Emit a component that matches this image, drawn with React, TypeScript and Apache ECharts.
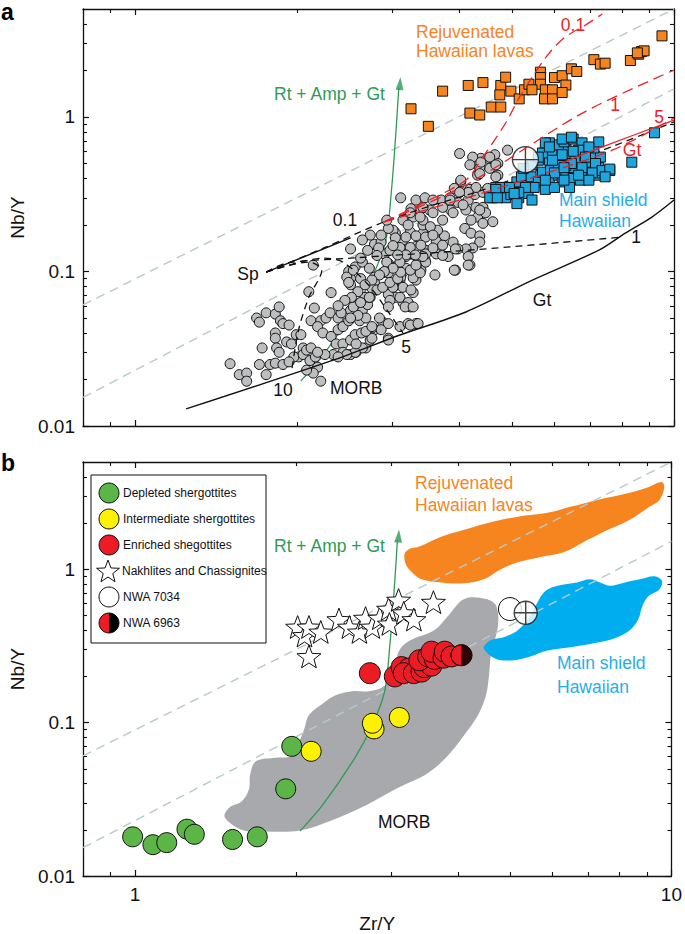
import React, { useEffect, useRef } from 'react';
import * as echarts from 'echarts';

const FONT = '"Liberation Sans", Arial, Helvetica, sans-serif';

const X_RANGE = [0.8, 10];
const Y_RANGE = [0.01, 5];
const X_MAJOR = [1, 10];
const X_MINOR = [0.8, 0.9, 2, 3, 4, 5, 6, 7, 8, 9];
const Y_MAJOR = [0.01, 0.1, 1];
const Y_MINOR = [0.02, 0.03, 0.04, 0.05, 0.06, 0.07, 0.08, 0.09, 0.2, 0.3, 0.4, 0.5, 0.6, 0.7, 0.8, 0.9, 2, 3, 4];

// constant Nb/Zr reference lines
const REF_UPPER = [[0.8, 0.0607], [10, 5.0]];
const REF_LOWER = [[0.8, 0.0153], [10, 1.52]];

// Rt + Amp + Gt trend
const RT_AMP_GT = [[2.03, 0.0196], [2.24, 0.0292], [2.57, 0.0589], [2.77, 0.0964], [2.92, 0.16], [2.99, 0.337], [3.04, 0.71], [3.085, 1.55]];
const RT_AMP_GT_TIP = [[3.1, 1.8]];

// panel a: MORB compilation
const MORB_A = [
  [1.5, 0.0253], [1.56, 0.0215], [1.61, 0.022], [1.61, 0.0195], [1.7, 0.025], [1.72, 0.032], [1.75, 0.0215], [1.78, 0.025], [1.82, 0.0255], [1.88, 0.025],
  [1.68, 0.05], [1.7, 0.047], [1.75, 0.054], [1.82, 0.053], [1.85, 0.059], [1.86, 0.048], [1.88, 0.046], [1.93, 0.045], [1.82, 0.04], [1.82, 0.037],
  [1.83, 0.032], [1.85, 0.03], [1.91, 0.035], [1.95, 0.034], [1.99, 0.039], [2.03, 0.039], [2.05, 0.032], [2.01, 0.028], [1.97, 0.028], [1.93, 0.026],
  [2.05, 0.029], [2.08, 0.031], [2.12, 0.032], [2.11, 0.0265], [2.16, 0.028], [2.18, 0.024], [2.21, 0.0195], [2.14, 0.022], [2.08, 0.023],
  [2.1, 0.074], [2.31, 0.073], [2.15, 0.058], [2.12, 0.048], [2.21, 0.048], [2.26, 0.05], [2.3, 0.054], [2.38, 0.05], [2.18, 0.044], [2.23, 0.04],
  [2.31, 0.038], [2.38, 0.042], [2.43, 0.044], [2.49, 0.048], [2.56, 0.052], [2.61, 0.048], [2.64, 0.056], [2.7, 0.061], [2.73, 0.068], [2.75, 0.079],
  [2.78, 0.092], [2.67, 0.068], [2.56, 0.061], [2.51, 0.056], [2.36, 0.034], [2.43, 0.034], [2.51, 0.036], [2.56, 0.039], [2.63, 0.04], [2.33, 0.029],
  [2.25, 0.029], [2.18, 0.03], [2.43, 0.03], [2.51, 0.029], [2.57, 0.03], [2.68, 0.032], [2.73, 0.036], [2.78, 0.042], [2.88, 0.047], [2.95, 0.037],
  [3.1, 0.044], [3.21, 0.046], [3.32, 0.046], [2.75, 0.043], [2.86, 0.042],
  [2.14, 0.11], [2.51, 0.14], [2.49, 0.1], [2.51, 0.09], [2.51, 0.082], [2.56, 0.107], [2.64, 0.115], [2.72, 0.105], [2.78, 0.15], [2.86, 0.155],
  [2.9, 0.13], [2.95, 0.113], [2.88, 0.098], [2.78, 0.085], [3.01, 0.079], [3.1, 0.088], [3.14, 0.099], [3.04, 0.068], [3.14, 0.063], [3.24, 0.059],
  [3.28, 0.073], [3.32, 0.088], [3.39, 0.102], [3.45, 0.12], [3.46, 0.137], [3.32, 0.145], [3.24, 0.13], [3.14, 0.16], [3.04, 0.178], [3.01, 0.185],
  [3.24, 0.18], [3.42, 0.177], [3.42, 0.2], [3.14, 0.215], [2.83, 0.142], [2.62, 0.09], [2.75, 0.078], [2.95, 0.071],
  [4.0, 0.58], [4.91, 0.61], [4.27, 0.5], [4.38, 0.54], [4.51, 0.54], [4.65, 0.57], [4.71, 0.5], [4.55, 0.465], [4.36, 0.47], [4.32, 0.42],
  [4.71, 0.42], [4.02, 0.38], [3.91, 0.345], [4.02, 0.33], [4.18, 0.34], [4.15, 0.29], [4.27, 0.315], [4.42, 0.325], [4.55, 0.34], [4.75, 0.33],
  [3.11, 0.3], [3.52, 0.25], [3.7, 0.29], [3.84, 0.3], [3.97, 0.28], [3.85, 0.25], [4.11, 0.25], [4.29, 0.26], [4.42, 0.26], [4.32, 0.225],
  [4.42, 0.205], [4.61, 0.21], [4.2, 0.215], [4.09, 0.19], [4.2, 0.177], [4.36, 0.17], [4.36, 0.155], [4.23, 0.142], [4.11, 0.14], [3.97, 0.14],
  [4.15, 0.125], [4.18, 0.11], [3.93, 0.102], [3.6, 0.095], [3.81, 0.125], [3.89, 0.155], [3.75, 0.17], [3.64, 0.185], [3.72, 0.215], [3.53, 0.195],
  [3.42, 0.215], [3.28, 0.225], [3.38, 0.25], [3.25, 0.255], [3.32, 0.29], [3.45, 0.3], [3.57, 0.29],
  [2.95, 0.19], [3.04, 0.165], [3.18, 0.167], [3.32, 0.17], [3.46, 0.167], [3.62, 0.157], [3.39, 0.148], [3.24, 0.143], [3.1, 0.143], [2.97, 0.137],
  [3.18, 0.125], [3.32, 0.125], [3.46, 0.13], [3.62, 0.13], [3.46, 0.115], [3.32, 0.107], [3.18, 0.105], [3.04, 0.107], [2.93, 0.115], [2.95, 0.098],
  [3.11, 0.092], [3.28, 0.091], [3.38, 0.098], [3.14, 0.079], [3.01, 0.079], [3.25, 0.076], [3.1, 0.068], [3.21, 0.063], [2.97, 0.065], [2.95, 0.059],
  [3.91, 0.102], [4.15, 0.11], [3.93, 0.14], [3.72, 0.127], [3.57, 0.142], [3.17, 0.059], [3.28, 0.059], [3.24, 0.045], [3.35, 0.046], [2.95, 0.046],
  [2.95, 0.036], [2.75, 0.037], [2.64, 0.032], [2.56, 0.03], [2.47, 0.029], [2.38, 0.028], [2.57, 0.034], [2.68, 0.041], [2.75, 0.044], [2.84, 0.05],
  [2.68, 0.05], [2.59, 0.052], [2.51, 0.05], [2.41, 0.054], [2.54, 0.059], [2.62, 0.063], [2.72, 0.068], [2.81, 0.076], [2.88, 0.079], [2.97, 0.085],
  [3.07, 0.09], [3.11, 0.099], [3.24, 0.102], [3.32, 0.11], [3.42, 0.125], [3.31, 0.128], [3.18, 0.128], [3.1, 0.115], [3.01, 0.105], [2.9, 0.1],
  [2.84, 0.095], [2.75, 0.088], [2.67, 0.082], [2.59, 0.074], [2.52, 0.068], [2.45, 0.065], [2.38, 0.06], [2.47, 0.092], [2.54, 0.102], [2.49, 0.085],
  [4.23, 0.55], [4.38, 0.51], [4.55, 0.55], [4.67, 0.49], [4.36, 0.43], [4.18, 0.49], [4.02, 0.39], [4.29, 0.35], [4.15, 0.325], [4.0, 0.325],
  [3.84, 0.29], [3.72, 0.26], [3.57, 0.24], [3.42, 0.26], [3.38, 0.225], [3.24, 0.24], [4.67, 0.41], [4.51, 0.345], [4.47, 0.24], [4.36, 0.25],
  [4.06, 0.27], [3.89, 0.24], [2.86, 0.172], [2.81, 0.127], [2.7, 0.137], [2.62, 0.122], [3.01, 0.147], [3.07, 0.128], [2.93, 0.215], [3.21, 0.2],
  [3.57, 0.172], [3.72, 0.148], [2.73, 0.172], [2.64, 0.16],
];

// panel a: rejuvenated Hawaiian lavas
const REJUV_A = [
  [3.25, 1.13], [3.5, 0.87], [3.72, 1.47], [4.15, 1.6], [4.42, 1.67], [4.18, 1.06], [4.36, 1.03], [4.58, 1.16], [4.77, 1.16], [4.77, 1.6],
  [4.87, 1.81], [4.75, 1.39], [4.98, 1.47], [5.16, 1.31], [5.28, 1.5], [5.65, 1.95], [5.65, 1.8], [5.65, 1.63], [5.77, 1.5], [5.95, 1.5],
  [5.75, 1.31], [5.95, 1.31], [6.0, 1.8], [6.2, 1.85], [6.3, 1.61], [6.45, 2.05], [6.6, 1.97], [6.2, 1.44], [5.38, 1.63], [5.45, 1.5],
  [7.1, 2.35], [7.3, 2.2], [7.45, 2.23], [8.3, 2.32], [8.6, 2.55], [8.7, 2.65], [8.8, 2.68], [8.55, 2.6], [9.5, 3.35],
];

// panel a: main shield Hawaiian lavas
const SHIELD_A = [
  [4.61, 0.3], [4.67, 0.35], [4.87, 0.3], [4.91, 0.35], [5.05, 0.34], [5.15, 0.3], [5.11, 0.38], [5.21, 0.41], [5.36, 0.36], [5.43, 0.41],
  [5.6, 0.38], [5.7, 0.44], [5.87, 0.39], [5.9, 0.45], [6.1, 0.42], [6.2, 0.38], [6.3, 0.42], [6.5, 0.4], [6.7, 0.39], [6.95, 0.41],
  [7.15, 0.42], [7.35, 0.435], [7.6, 0.45], [7.25, 0.47], [6.95, 0.47], [6.75, 0.45], [6.5, 0.47], [6.3, 0.485], [6.1, 0.485], [5.87, 0.525],
  [5.6, 0.525], [5.45, 0.49], [5.25, 0.465], [5.7, 0.585], [5.95, 0.585], [6.2, 0.585], [6.45, 0.57], [6.75, 0.57], [7.0, 0.57], [7.3, 0.55],
  [7.15, 0.5], [6.85, 0.51], [6.55, 0.525], [6.3, 0.63], [6.1, 0.66], [5.87, 0.68], [5.77, 0.68], [6.25, 0.69], [6.5, 0.72], [6.8, 0.61],
  [7.1, 0.63], [7.25, 0.69], [6.75, 0.68], [5.45, 0.35], [5.77, 0.34], [6.0, 0.35], [6.4, 0.35], [4.98, 0.315], [4.77, 0.35], [5.11, 0.275],
  [5.36, 0.32], [6.2, 0.72], [6.45, 0.74], [6.65, 0.61], [6.95, 0.64], [6.85, 0.55], [7.35, 0.45], [7.6, 0.46], [7.45, 0.41], [7.05, 0.435],
  [6.75, 0.47], [6.45, 0.5], [6.25, 0.39], [6.0, 0.435], [5.77, 0.39], [5.5, 0.35], [5.3, 0.35], [5.15, 0.325], [5.45, 0.29], [4.95, 0.35],
  [4.67, 0.34], [4.55, 0.3], [4.7, 0.3], [5.05, 0.32], [8.35, 0.51], [9.2, 0.79], [5.87, 0.64], [6.2, 0.57], [5.6, 0.55], [5.95, 0.525],
  [6.25, 0.47], [6.65, 0.42], [6.95, 0.39], [6.5, 0.6],
];

const NWA7034_A = [[5.3, 0.53]];

// panel a: melting models (black = spinel/garnet peridotite, red = Hawaiian source)
const GT_MELT = [[1.243, 0.0129], [2.33, 0.0267], [3.1, 0.0388], [4.11, 0.0547], [5.46, 0.088], [7.27, 0.138], [8.12, 0.177], [9.1, 0.225], [10, 0.29]];
const SP_MELT = [[1.75, 0.099], [2.51, 0.165]];
const MIX_01 = [[1.75, 0.099], [2.24, 0.142], [2.89, 0.209], [3.57, 0.269], [4.42, 0.337], [5.46, 0.44], [7.36, 0.61], [10, 0.93]];
const MIX_1 = [[1.75, 0.099], [1.91, 0.1135], [2.51, 0.122], [4.23, 0.138], [8.02, 0.167]];
const MIX_5 = [[1.75, 0.099], [2.24, 0.122], [2.43, 0.115], [2.71, 0.0818], [2.95, 0.0547], [3.14, 0.04]];
const MIX_10 = [[1.75, 0.099], [2.1, 0.115], [2.22, 0.102], [2.1, 0.068], [2.01, 0.0418], [1.95, 0.0224]];
const RED_01 = [[2.89, 0.209], [3.42, 0.277], [4.11, 0.391], [4.42, 0.551], [4.87, 0.914], [5.17, 1.35], [5.46, 1.82], [5.87, 2.6], [6.29, 3.3], [6.85, 3.94], [7.36, 4.64]];
const RED_1 = [[2.89, 0.209], [4.11, 0.363], [6.76, 1.06], [10, 2.01]];
const RED_5 = [[2.89, 0.209], [4.61, 0.337], [7.68, 0.61], [10, 0.985]];
const RED_GT = [[6.2, 0.504], [7.36, 0.64], [10, 0.955]];

// panel b: fields
const MORB_FIELD = [
  [1.47, 0.0242], [1.59, 0.0199], [1.75, 0.0195], [2.03, 0.0198], [2.33, 0.0231], [2.69, 0.0288], [3.1, 0.0377], [3.52, 0.047], [3.84, 0.0616],
  [4.11, 0.083], [4.36, 0.112], [4.51, 0.15], [4.57, 0.202], [4.61, 0.28], [4.75, 0.43], [4.71, 0.58], [4.51, 0.64], [4.11, 0.64], [3.84, 0.5],
  [3.61, 0.4], [3.24, 0.34], [3.1, 0.29], [3.05, 0.215], [2.92, 0.174], [2.73, 0.16], [2.54, 0.16], [2.36, 0.15], [2.24, 0.133], [2.11, 0.112],
  [2.07, 0.092], [2.03, 0.077], [1.97, 0.061], [1.83, 0.059], [1.68, 0.056], [1.64, 0.046], [1.63, 0.0365], [1.58, 0.0306], [1.5, 0.028],
];
const REJUV_FIELD = [
  [3.18, 1.25], [3.24, 1.35], [3.38, 1.4], [3.72, 1.63], [4.11, 1.81], [4.55, 2.0], [5.17, 2.2], [5.87, 2.33], [6.48, 2.55], [7.27, 2.83],
  [8.36, 3.15], [9.1, 3.45], [9.58, 3.7], [9.7, 3.45], [9.5, 2.83], [9.1, 2.55], [8.36, 2.1], [7.45, 1.74], [6.85, 1.5], [6.29, 1.29],
  [5.63, 1.19], [5.17, 1.11], [4.81, 1.0], [4.47, 0.86], [4.11, 0.81], [3.72, 0.82], [3.42, 0.86], [3.28, 0.96], [3.2, 1.07],
];
const SHIELD_FIELD = [
  [4.47, 0.305], [4.61, 0.345], [4.87, 0.36], [5.17, 0.4], [5.46, 0.5], [5.63, 0.61], [5.82, 0.72], [6.13, 0.78], [6.67, 0.82], [7.05, 0.86],
  [7.36, 0.82], [7.68, 0.78], [8.19, 0.82], [8.73, 0.86], [9.3, 0.9], [9.6, 0.84], [9.5, 0.74], [9.03, 0.66], [8.82, 0.57], [8.67, 0.47],
  [8.36, 0.4], [7.85, 0.355], [7.21, 0.33], [6.48, 0.31], [5.87, 0.295], [5.46, 0.27], [5.08, 0.255], [4.71, 0.26],
];

// panel b: Martian meteorites
const DEPLETED = [[0.99, 0.018], [1.08, 0.016], [1.146, 0.0165], [1.25, 0.0202], [1.29, 0.0187], [1.52, 0.0173], [1.69, 0.018], [1.91, 0.037], [1.96, 0.07]];
const INTERMEDIATE = [[2.13, 0.065], [2.79, 0.091], [2.77, 0.099], [3.11, 0.108]];
const ENRICHED = [[2.74, 0.21], [3.05, 0.2], [3.14, 0.23], [3.24, 0.225], [3.17, 0.21], [3.31, 0.21], [3.42, 0.215], [3.46, 0.23], [3.57, 0.235],
  [3.39, 0.255], [3.52, 0.27], [3.62, 0.26], [3.57, 0.29], [3.76, 0.265], [3.78, 0.29], [3.89, 0.27]];
const NAKHLITES = [[2.01, 0.42], [2.07, 0.37], [2.11, 0.42], [2.22, 0.39], [2.11, 0.27], [2.4, 0.47], [2.51, 0.42], [2.62, 0.39], [2.69, 0.48],
  [2.77, 0.42], [2.86, 0.48], [2.97, 0.55], [3.1, 0.63], [2.98, 0.44], [3.17, 0.52], [3.31, 0.47], [3.6, 0.61]];
const NWA7034_B = [[5.0, 0.55]];
const NWA7034_B_AVG = [[5.35, 0.52]];
const NWA6963 = [[4.06, 0.275]];

const STAR = 'path://M0,-1L0.247,-0.34L0.951,-0.309L0.399,0.13L0.588,0.809L0,0.42L-0.588,0.809L-0.399,0.13L-0.951,-0.309L-0.247,-0.34Z';
const CROSS_CIRCLE = 'path://M-1,0A1,1 0 1,1 1,0A1,1 0 1,1 -1,0ZM-1,0L1,0M0,-1L0,1';
const HALF_RIGHT = 'path://M0,0A10,10 0 0,1 0,20Z';

const C = {
  grey: '#bdbec0', greyField: '#a7a9ac', orange: '#f6851f', blue: '#1ea5de', blueField: '#00aeef',
  green: '#2f9a55', ref: '#b7cac8', red: '#ec2227', dGreen: '#5cb647', yellow: '#fff200', eRed: '#ed1c24',
};

const fmt = (v: number) => (v < 0.05 ? '0.01' : v < 0.5 ? '0.1' : v < 5 ? '1' : '10');

function axesFor(dim: 'x' | 'y', gridIndex: number, showLabels: boolean, name: string) {
  const isX = dim === 'x';
  const base = {
    gridIndex, type: 'log', logBase: 10,
    min: isX ? X_RANGE[0] : Y_RANGE[0], max: isX ? X_RANGE[1] : Y_RANGE[1],
    splitLine: { show: false }, minorTick: { show: false }, minorSplitLine: { show: false },
  };
  const pos = isX ? ['bottom', 'top'] : ['left', 'right'];
  const out: any[] = [];
  pos.forEach((p, i) => {
    out.push({
      ...base, position: p,
      axisLine: { show: true, onZero: false, lineStyle: { color: '#111', width: 1.3 } },
      axisTick: { show: true, inside: true, length: 6, customValues: isX ? X_MAJOR : Y_MAJOR, lineStyle: { color: '#111', width: 1.2 } },
      axisLabel: { show: showLabels && i === 0, customValues: isX ? X_MAJOR : Y_MAJOR, formatter: fmt, fontSize: 19, color: '#111', fontFamily: FONT, margin: isX ? 9 : 8 },
      name: i === 0 ? name : '', nameLocation: 'middle', nameGap: isX ? 38 : 56, nameRotate: isX ? 0 : 90,
      nameTextStyle: { fontSize: 19, color: '#111', fontFamily: FONT },
    });
    out.push({
      ...base, position: p,
      axisLine: { show: false },
      axisTick: { show: true, inside: true, length: 4, customValues: isX ? X_MINOR : Y_MINOR, lineStyle: { color: '#111', width: 1.1 } },
      axisLabel: { show: false },
    });
  });
  return out;
}

const line = (ai: number, data: number[][], color: string, type: any, width = 1.3, smooth: any = false, z = 2) => ({
  type: 'line', xAxisIndex: ai, yAxisIndex: ai, data, symbol: 'none', smooth, silent: true, z,
  lineStyle: { color, width, type },
});

const scatter = (ai: number, data: number[][], symbol: string, size: any, color: string, z = 3, extra: any = {}) => ({
  type: 'scatter', xAxisIndex: ai, yAxisIndex: ai, data, symbol, symbolSize: size, silent: true, z,
  itemStyle: { color, borderColor: '#111', borderWidth: 1, opacity: 1 }, ...extra,
});

const poly = (ai: number, pts: number[][], color: string) => ({
  type: 'custom', xAxisIndex: ai, yAxisIndex: ai, data: [pts[0]], silent: true, z: 1,
  renderItem: (_p: any, api: any) => ({
    type: 'polygon',
    shape: { points: pts.map((p) => api.coord(p)), smooth: 0.35 },
    style: { fill: color, stroke: 'none' },
  }),
});

const arrow = (ai: number) => ({
  type: 'scatter', xAxisIndex: ai, yAxisIndex: ai, data: RT_AMP_GT_TIP, symbol: 'triangle', symbolSize: [8, 13],
  symbolOffset: [0, 6], symbolRotate: -4, silent: true, z: 2, itemStyle: { color: C.green },
});

const T = (text: string, x: number, y: number, fill: string, align = 'left', size = 17.5, weight = 'normal') => ({
  type: 'text', x, y, z: 100, silent: true,
  style: { text, fill, font: `${weight} ${size}px ${FONT}`, textAlign: align, textVerticalAlign: 'middle' },
});

const LEG_Y = [493, 519, 545, 571, 597, 623];
const starPts = (cx: number, cy: number, r: number, ri: number) => {
  const pts: number[][] = [];
  for (let i = 0; i < 10; i++) {
    const a = -Math.PI / 2 + (i * Math.PI) / 5;
    const rr = i % 2 === 0 ? r : ri;
    pts.push([cx + rr * Math.cos(a), cy + rr * Math.sin(a)]);
  }
  return pts;
};

const legend = [
  { type: 'rect', z: 100, shape: { x: 91, y: 475, width: 175, height: 168 }, style: { fill: '#fff', stroke: '#111', lineWidth: 1 } },
  { type: 'circle', z: 101, shape: { cx: 109, cy: LEG_Y[0], r: 10 }, style: { fill: C.dGreen, stroke: '#111', lineWidth: 1 } },
  { type: 'circle', z: 101, shape: { cx: 109, cy: LEG_Y[1], r: 10 }, style: { fill: C.yellow, stroke: '#111', lineWidth: 1 } },
  { type: 'circle', z: 101, shape: { cx: 109, cy: LEG_Y[2], r: 10 }, style: { fill: C.eRed, stroke: '#111', lineWidth: 1 } },
  { type: 'polygon', z: 101, shape: { points: starPts(108, LEG_Y[3] + 1, 12, 5) }, style: { fill: '#fff', stroke: '#111', lineWidth: 1 } },
  { type: 'circle', z: 101, shape: { cx: 109, cy: LEG_Y[4], r: 10 }, style: { fill: '#fff', stroke: '#111', lineWidth: 1 } },
  { type: 'circle', z: 101, shape: { cx: 109, cy: LEG_Y[5], r: 10 }, style: { fill: C.eRed, stroke: 'none' } },
  { type: 'sector', z: 102, shape: { cx: 109, cy: LEG_Y[5], r: 10, r0: 0, startAngle: -Math.PI / 2, endAngle: Math.PI / 2 }, style: { fill: '#000' } },
  { type: 'circle', z: 103, shape: { cx: 109, cy: LEG_Y[5], r: 10 }, style: { fill: 'none', stroke: '#111', lineWidth: 1 } },
  T('Depleted shergottites', 123, LEG_Y[0], '#111', 'left', 12),
  T('Intermediate shergottites', 123, LEG_Y[1], '#111', 'left', 12),
  T('Enriched shegottites', 123, LEG_Y[2], '#111', 'left', 12),
  T('Nakhlites and Chassignites', 122, LEG_Y[3], '#111', 'left', 12),
  T('NWA 7034', 123, LEG_Y[4], '#111', 'left', 12),
  T('NWA 6963', 123, LEG_Y[5], '#111', 'left', 12),
];

const texts = [
  T('a', 1, 12, '#000', 'left', 23, 'bold'),
  T('Rt + Amp + Gt', 274, 94, C.green),
  T('Rejuvenated', 416, 32, C.orange), T('Hawaiian lavas', 416, 51, C.orange),
  T('0.1', 573, 25, C.red, 'center'), T('1', 615, 105, C.red, 'center'), T('5', 659, 117, C.red, 'center'), T('Gt', 632, 150, C.red, 'center'),
  T('Main shield', 559, 200, '#1fb0e6'), T('Hawaiian', 559, 221, '#1fb0e6'),
  T('0.1', 345, 220, '#111', 'center'), T('Sp', 248, 274, '#111', 'center'), T('1', 636, 237, '#111', 'center'),
  T('Gt', 542, 300, '#111', 'center'), T('5', 406, 347, '#111', 'center'), T('10', 283, 390, '#111', 'center'),
  T('MORB', 330, 388, '#111'),
  T('b', 1, 463, '#000', 'left', 23, 'bold'),
  T('Rt + Amp + Gt', 274, 546, C.green),
  T('Rejuvenated', 415, 483, C.orange), T('Hawaiian lavas', 415, 505, C.orange),
  T('Main shield', 557, 663, '#1fb0e6'), T('Hawaiian', 557, 687, '#1fb0e6'),
  T('MORB', 378, 822, '#111'),
];

function buildOption() {
  const xAxis = [...axesFor('x', 0, false, ''), ...axesFor('x', 1, true, 'Zr/Y')];
  const yAxis = [...axesFor('y', 0, true, 'Nb/Y'), ...axesFor('y', 1, true, 'Nb/Y')];
  const dash = [9, 6];
  const bdash = [7, 5];
  const rdash = [11, 6];
  const series: any[] = [
    // panel a
    line(0, REF_UPPER, C.ref, dash, 1.4),
    line(0, REF_LOWER, C.ref, dash, 1.4),
    line(0, RT_AMP_GT, C.green, 'solid', 1.3, 0.3),
    arrow(0),
    scatter(0, MORB_A, 'circle', 10, C.grey, 3),
    line(0, GT_MELT, '#111', 'solid', 1.4, 0.3, 4),
    line(0, SP_MELT, '#111', 'solid', 1.4, false, 4),
    line(0, MIX_01, '#111', bdash, 1.3, 0.3, 4),
    line(0, MIX_1, '#111', bdash, 1.3, 0.3, 4),
    line(0, MIX_5, '#111', bdash, 1.3, 0.3, 4),
    line(0, MIX_10, '#111', bdash, 1.3, 0.3, 4),
    scatter(0, REJUV_A, 'rect', 10, C.orange, 5),
    scatter(0, SHIELD_A, 'rect', 10, C.blue, 5),
    scatter(0, NWA7034_A, CROSS_CIRCLE, 26, '#fff', 6, { itemStyle: { color: '#fff', borderColor: '#111', borderWidth: 1.4 } }),
    line(0, RED_01, C.red, rdash, 1.3, 0.3, 7),
    line(0, RED_1, C.red, rdash, 1.3, 0.3, 7),
    line(0, RED_5, C.red, rdash, 1.3, 0.3, 7),
    line(0, RED_GT, C.red, 'solid', 1.3, 0.3, 7),
    // panel b
    line(4, REF_UPPER, C.ref, dash, 1.4, false, 1),
    line(4, REF_LOWER, C.ref, dash, 1.4, false, 1),
    poly(4, MORB_FIELD, C.greyField),
    poly(4, REJUV_FIELD, C.orange),
    poly(4, SHIELD_FIELD, C.blueField),
    line(4, RT_AMP_GT, C.green, 'solid', 1.3, 0.3, 2),
    arrow(4),
    scatter(4, NAKHLITES, STAR, 24, '#fff', 3, { symbolKeepAspect: true }),
    scatter(4, DEPLETED, 'circle', 20, C.dGreen, 3),
    scatter(4, INTERMEDIATE, 'circle', 20, C.yellow, 3),
    scatter(4, ENRICHED, 'circle', 21, C.eRed, 3),
    scatter(4, NWA6963, 'circle', 21, C.eRed, 4),
    scatter(4, NWA6963, HALF_RIGHT, [10.5, 21], '#000', 5, { symbolOffset: [5.25, 0], itemStyle: { color: '#000', borderWidth: 0 } }),
    scatter(4, NWA6963, 'circle', 21, 'none', 6, { itemStyle: { color: 'rgba(0,0,0,0)', borderColor: '#111', borderWidth: 1 } }),
    scatter(4, NWA7034_B, 'circle', 23, '#fff', 4),
    scatter(4, NWA7034_B_AVG, CROSS_CIRCLE, 23, '#fff', 5, { itemStyle: { color: '#fff', borderColor: '#111', borderWidth: 1.4 } }),
  ];
  return {
    animation: false,
    backgroundColor: '#fff',
    textStyle: { fontFamily: FONT },
    grid: [
      { left: 78, top: 9, width: 596, height: 417 },
      { left: 78, top: 462, width: 596, height: 417 },
    ],
    xAxis,
    yAxis,
    series,
    graphic: { elements: [...legend, ...texts] },
  };
}

export default function App() {
  const ref = useRef<HTMLDivElement>(null);
  useEffect(() => {
    const chart = echarts.init(ref.current as HTMLDivElement, null, { renderer: 'svg' });
    chart.setOption(buildOption() as any);
    return () => chart.dispose();
  }, []);
  return <div ref={ref} style={{ position: 'absolute', left: 0, top: 0, width: 685, height: 934, background: '#fff' }} />;
}
